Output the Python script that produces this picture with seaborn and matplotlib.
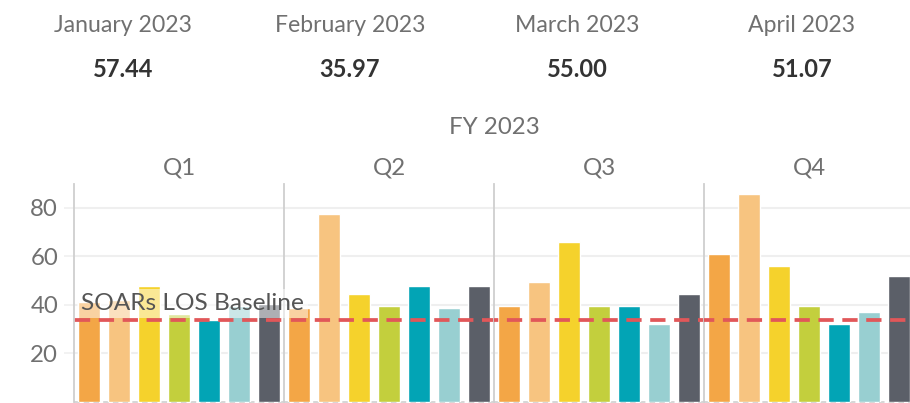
import pandas as pd
import matplotlib
matplotlib.use('Agg')
import matplotlib.pyplot as plt
import seaborn as sns

# Datos
months = ['January 2023', 'February 2023', 'March 2023', 'April 2023']
month_values = ['57.44', '35.97', '55.00', '51.07']
quarters = ['Q1', 'Q2', 'Q3', 'Q4']
categories = ['C1', 'C2', 'C3', 'C4', 'C5', 'C6', 'C7']
q1_values = [41.0, 41.8, 47.6, 36.1, 33.6, 39.5, 40.1]
q2_values = [38.5, 77.3, 44.3, 39.4, 47.6, 38.5, 47.6]
q3_values = [39.4, 49.3, 65.8, 39.4, 39.4, 32.0, 44.3]
q4_values = [60.8, 85.6, 55.9, 39.4, 32.0, 36.9, 51.8]
baseline = 33.7
baseline_label = 'SOARs LOS Baseline'
colors = ['#F3A646', '#F7C480', '#F5D22C', '#C3CF3D', '#02A4B5', '#98CFD1', '#5B5F68']

quarter_values = [q1_values, q2_values, q3_values, q4_values]

sns.set_theme(style='white')
plt.rcParams['font.family'] = ['Lato', 'DejaVu Sans']
plt.rcParams['lines.scale_dashes'] = False

W, H = 910, 403
fig = plt.figure(figsize=(W / 100, H / 100), dpi=100)

gray = '#707070'
palette = dict(zip(categories, colors))

# Fila de indicadores mensuales
month_x = [123, 350, 577, 802]
for x, m, v in zip(month_x, months, month_values):
    fig.text(x / W, 1 - 32.3 / H, m, ha='center', va='baseline', fontsize=16.6, color=gray)
    fig.text(x / W, 1 - 76.7 / H, v, ha='center', va='baseline', fontsize=17, color='#333333',
             fontweight='bold')

fig.text(494 / W, 1 - 134.3 / H, 'FY 2023', ha='center', va='baseline', fontsize=17.3, color=gray)

axes = []
y_top = 184
y_bottom = 401.5
for i, (q, vals) in enumerate(zip(quarters, quarter_values)):
    left = 74 + 210 * i
    ax = fig.add_axes([left / W, (H - y_bottom) / H, 210 / W, (y_bottom - y_top) / H])
    df = pd.DataFrame({'category': categories, 'value': vals})
    sns.barplot(data=df, x='category', y='value', hue='category', palette=palette,
                order=categories, hue_order=categories, width=0.73, saturation=1,
                legend=False, ax=ax, zorder=2)
    ax.set_xlim(-0.5, 6.5)
    ax.set_ylim(0, 89.7)
    ax.set_yticks([20, 40, 60, 80])
    ax.yaxis.grid(True, color='#efefef', lw=1.5, zorder=0)
    ax.set_axisbelow(True)
    ax.set_xlabel('')
    ax.set_ylabel('')
    ax.set_xticks([])
    for s in ['top', 'right', 'bottom']:
        ax.spines[s].set_visible(False)
    ax.spines['left'].set_color('#cfcfcf')
    ax.spines['left'].set_linewidth(1.3)
    if i == 0:
        ax.tick_params(axis='y', length=7.2, width=1.1, color='#efefef', labelsize=17.3,
                       labelcolor=gray, pad=4.3, left=True)
    else:
        ax.tick_params(axis='y', length=0, labelleft=False)
    # linea base discontinua, con fase continua entre paneles
    phase = ((210 * i - 1) % 24) / 1.389
    ax.axhline(baseline, color='#E15759', lw=2.7, ls=(phase, (11, 6.2)), zorder=3)
    ax.axhline(0, color='#d0d0d0', lw=1.2, ls=(0, (4, 3)), clip_on=False, zorder=1)
    fig.text((left + 105) / W, 1 - 174 / H, q, ha='center', va='baseline', fontsize=17.3, color=gray)
    axes.append(ax)

fig.text(-0.267, 37.7, baseline_label, transform=axes[0].transData, fontsize=17.6,
         color='#555555', ha='left', va='baseline', zorder=10,
         bbox=dict(boxstyle='square,pad=0.15', fc='white', ec='none', alpha=0.5))

fig.savefig('out.png', dpi=100)
